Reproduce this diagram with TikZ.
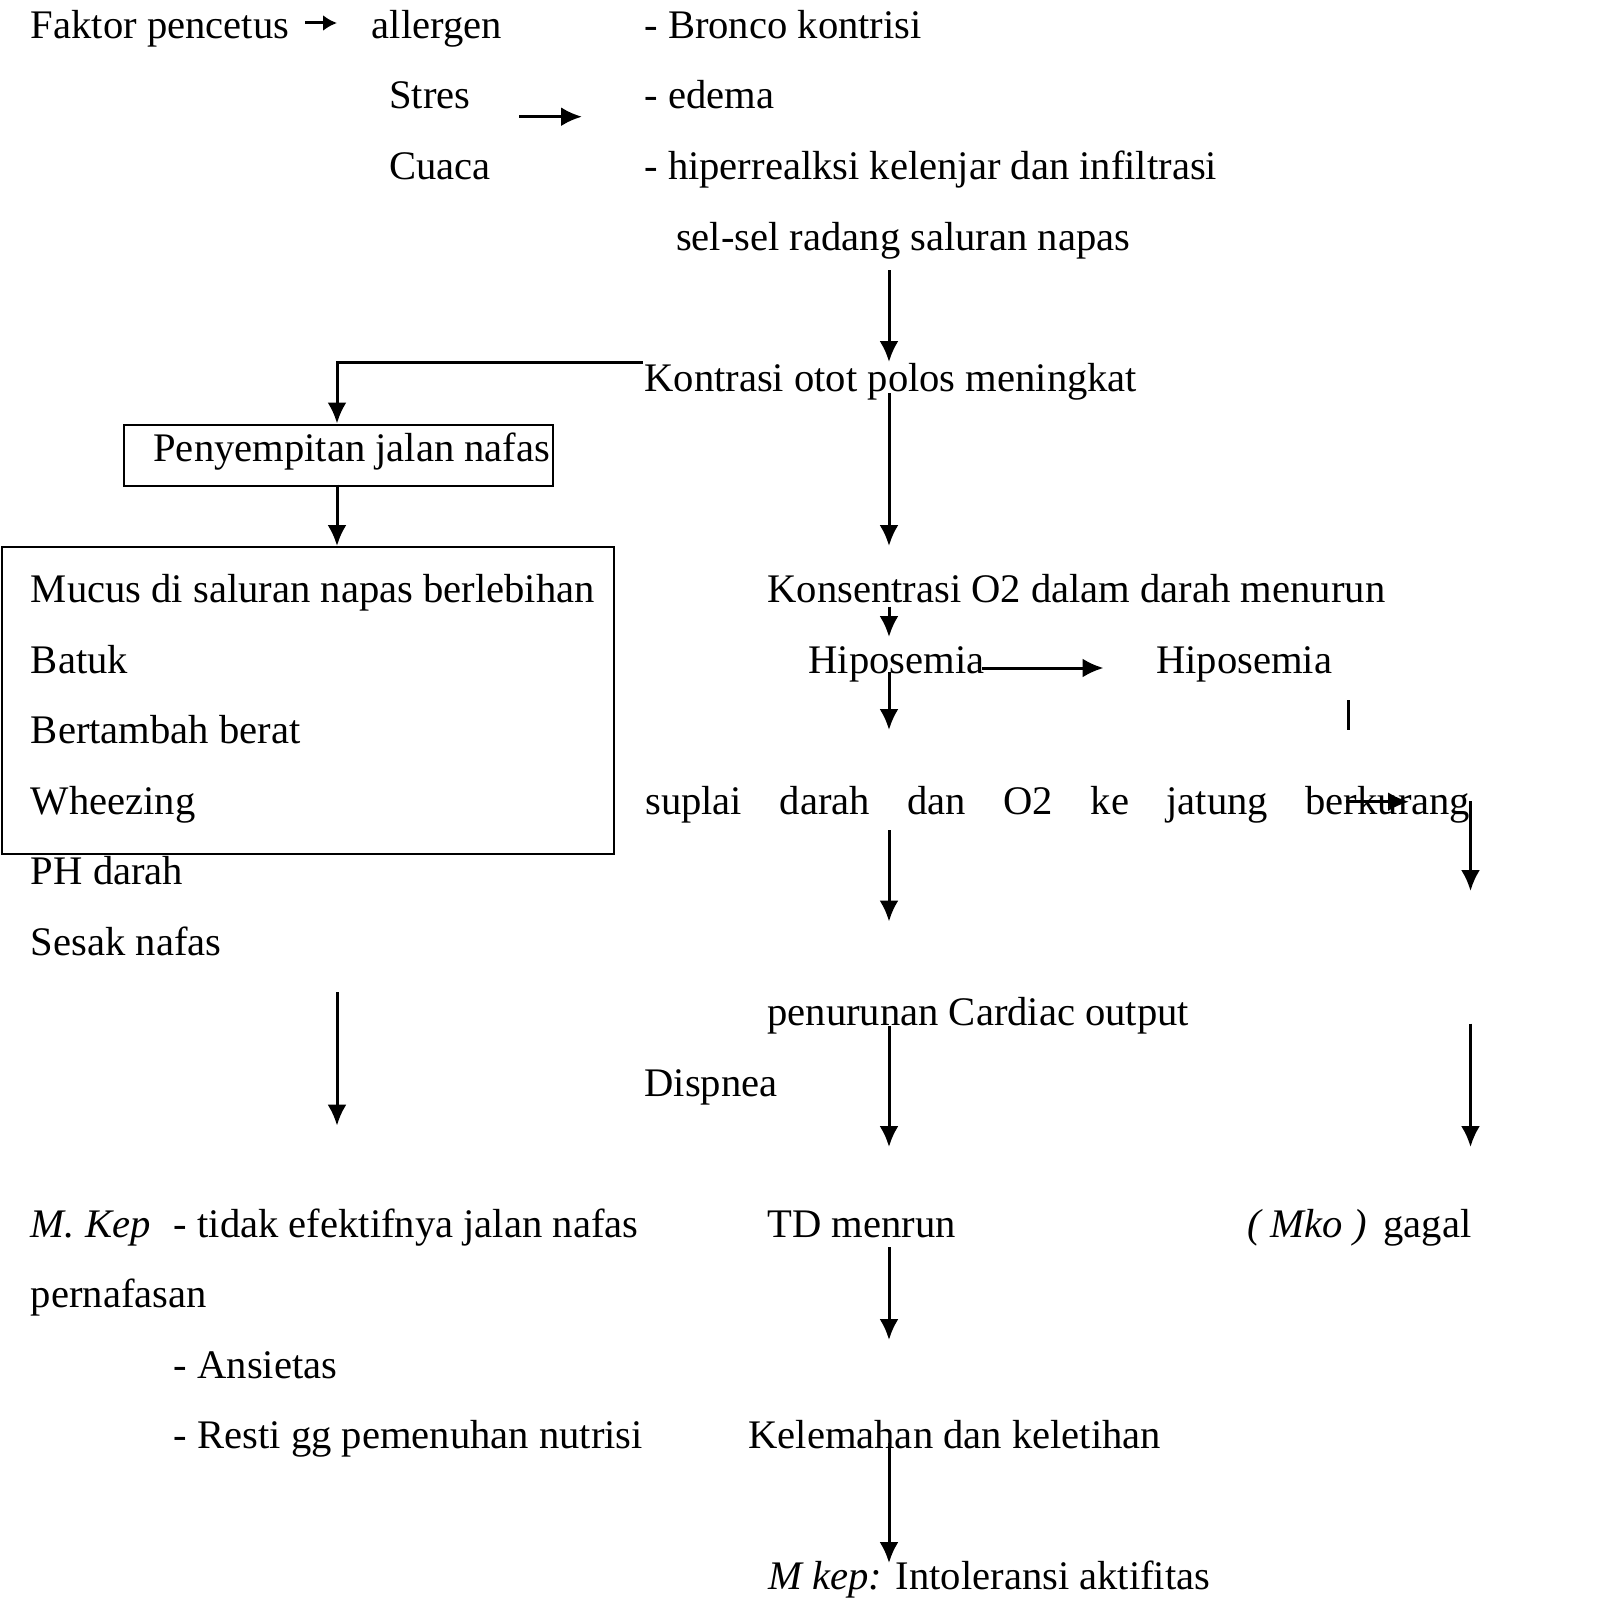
\documentclass[tikz,border=0pt]{standalone}
\usepackage{fontspec}
\setmainfont{Liberation Serif}
\usetikzlibrary{arrows.meta}
\begin{document}
\begin{tikzpicture}[x=0.5pt,y=-0.5pt,
  txt/.style={anchor=base west, inner sep=0pt, yshift=-1pt, font=\fontsize{20.3pt}{24pt}\selectfont},
  arr/.style={line width=1.5pt, -{Latex[length=10.5pt,width=9.5pt]}},
  smallarr/.style={line width=1.5pt, -{Latex[length=7pt,width=8pt]}},
  ln/.style={line width=1.5pt},
  frame/.style={draw, line width=1pt, inner sep=0pt, anchor=north west}]
\useasboundingbox (0,0) rectangle (1596,1600);

% texts
\node[txt] (faktor) at (30.6,36.5) {Faktor pencetus};
\node[txt] (allergen) at (371.5,36.5) {allergen};
\node[txt] (stres) at (389,107) {Stres};
\node[txt] (cuaca) at (389,177.5) {Cuaca};
\node[txt] (bronco) at (644,36.5) {- Bronco kontrisi};
\node[txt] (edema) at (644,107) {- edema};
\node[txt] (hiper) at (644,177.5) {- hiperrealksi kelenjar dan infiltrasi};
\node[txt] (selsel) at (675.6,248) {sel-sel radang saluran napas};
\node[txt] (kontrasi) at (644,389) {Kontrasi otot polos meningkat};

\node[frame, minimum width=214.75pt, minimum height=30.6pt] (pbox) at (122.5,423.5) {};
\node[txt] (penyempitan) at (153,459.5) {Penyempitan jalan nafas};

\node[frame, minimum width=306.25pt, minimum height=153.5pt] (bigbox) at (0.5,546) {};
\node[txt] (mucus) at (30.6,600.5) {Mucus di saluran napas berlebihan};
\node[txt] (batuk) at (30.6,671) {Batuk};
\node[txt] (bertambah) at (30.6,741.5) {Bertambah berat};
\node[txt] (wheezing) at (30.6,812) {Wheezing};
\node[txt] (ph) at (30.6,882.5) {PH darah};
\node[txt] (sesak) at (30.6,953) {Sesak nafas};

\node[txt] (konsentrasi) at (767,600.5) {Konsentrasi O2 dalam darah menurun};
\node[txt] (hipo1) at (808,671) {Hiposemia};
\node[txt] (hipo2) at (1155.7,671) {Hiposemia};
\node[txt] (suplai) at (644.8,812) {\makebox[412.5pt][l]{suplai\hfill darah\hfill dan\hfill O2\hfill ke\hfill jatung\hfill berkurang}};
\node[txt] (penurunan) at (767,1023.5) {penurunan Cardiac output};
\node[txt] (dispnea) at (644,1094) {Dispnea};

\node[txt] (mkep1) at (30.6,1235) {\textit{M. Kep}};
\node[txt] (tidak) at (173.5,1235) {- tidak efektifnya jalan nafas};
\node[txt] (td) at (767,1235) {TD menrun};
\node[txt] (mko) at (1246.7,1235) {\textit{( Mko )}\, gagal};
\node[txt] (pernafasan) at (30.6,1305.5) {pernafasan};
\node[txt] (ansietas) at (173.5,1376) {- Ansietas};
\node[txt] (resti) at (173.5,1446.5) {- Resti gg pemenuhan nutrisi};
\node[txt] (kelemahan) at (748,1446.5) {Kelemahan dan keletihan};
\node[txt] (mkep2) at (768,1587.5) {\textit{M kep:} Intoleransi aktifitas};

% connector end points
\coordinate (f1) at (305,23);   \coordinate (f2) at (337,23);
\coordinate (s1) at (519,116.7); \coordinate (s2) at (582,116.7);
\coordinate (k1) at (889,270);  \coordinate (k2) at (889,362);
\coordinate (p0) at (643,362);  \coordinate (p1) at (337,362); \coordinate (p2) at (337,423.5);
\coordinate (b1) at (337,484.7); \coordinate (b2) at (337,546);
\coordinate (c1) at (889,393);  \coordinate (c2) at (889,546);
\coordinate (h1) at (889,606.7); \coordinate (h2) at (889,637);
\coordinate (hh1) at (982,668); \coordinate (hh2) at (1103.5,668);
\coordinate (sp1) at (889,672); \coordinate (sp2) at (889,730);
\coordinate (v1) at (1348,700); \coordinate (v2) at (1348,730);
\coordinate (bk1) at (1346,801.7); \coordinate (bk2) at (1409,801.7);
\coordinate (r1) at (1470.5,801); \coordinate (r2) at (1470.5,891);
\coordinate (pn1) at (889,830); \coordinate (pn2) at (889,921.5);
\coordinate (ss1) at (337,992); \coordinate (ss2) at (337,1125.6);
\coordinate (td1) at (889,1025.6); \coordinate (td2) at (889,1147);
\coordinate (rr1) at (1470.5,1023.6); \coordinate (rr2) at (1470.5,1147);
\coordinate (kl1) at (889,1247); \coordinate (kl2) at (889,1340);
\coordinate (mk1) at (889,1443); \coordinate (mk2) at (889,1563);

% connectors
\draw[smallarr] (f1) -- (f2);
\draw[arr] (s1) -- (s2);
\draw[arr] (k1) -- (k2);
\draw[arr] (p0) -- (p1) -- (p2);
\draw[arr] (b1) -- (b2);
\draw[arr] (c1) -- (c2);
\draw[arr] (h1) -- (h2);
\draw[arr] (hh1) -- (hh2);
\draw[arr] (sp1) -- (sp2);
\draw[ln] (v1) -- (v2);
\draw[arr] (bk1) -- (bk2);
\draw[arr] (r1) -- (r2);
\draw[arr] (pn1) -- (pn2);
\draw[arr] (ss1) -- (ss2);
\draw[arr] (td1) -- (td2);
\draw[arr] (rr1) -- (rr2);
\draw[arr] (kl1) -- (kl2);
\draw[arr] (mk1) -- (mk2);
\end{tikzpicture}
\end{document}
